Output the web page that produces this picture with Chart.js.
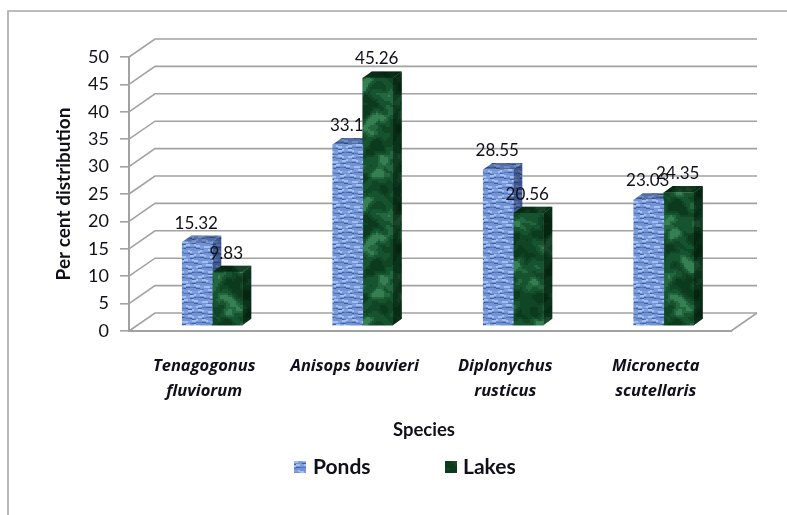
<!DOCTYPE html>
<html>
<head>
<meta charset="utf-8">
<title>Per cent distribution by species</title>
<script src="https://cdn.jsdelivr.net/npm/chart.js@4"></script>
<style>
  html, body { margin: 0; padding: 0; background: #fff; }
  canvas { display: block; filter: blur(0.4px); }
</style>
</head>
<body>
<canvas id="chart" width="787" height="515"></canvas>
<script>
const species = [['Tenagogonus', 'fluviorum'], 'Anisops bouvieri', ['Diplonychus', 'rusticus'], ['Micronecta', 'scutellaris']];
const ponds = [15.32, 33.1, 28.55, 23.03];
const lakes = [9.83, 45.26, 20.56, 24.35];
const seriesNames = ['Ponds', 'Lakes'];
const yMax = 50;
const yStep = 5;

// the 3d look: back wall offset, bar plane offset, bar depth
const wall = { dx: 26, dy: -18 };
const barPlane = { dx: 8, dy: -5 };
const depth = { dx: 9, dy: -6.5 };
const gridColor = '#a2a2a2';
const textColor = '#10101a';

function makeTile(w, h) {
    const c = document.createElement('canvas');
    c.width = w;
    c.height = h;
    return c;
}

// woven blue texture, mostly horizontal dashes
function bluePattern() {
    const c = makeTile(60, 40);
    const g = c.getContext('2d');
    g.fillStyle = '#7393d4';
    g.fillRect(0, 0, 60, 40);
    for (let y = 0; y < 40; y += 5) {
        for (let x = 0; x < 60; x += 2) {
            const wave = Math.sin(x * Math.PI / 15 + y * 1.7);
            const gap = Math.sin(x * Math.PI / 5 + y * 0.9);
            g.fillStyle = gap > -0.2 ? '#a2bff1' : '#7f9fdf';
            g.fillRect(x, y + Math.round(wave), 2, 2);
            g.fillStyle = gap > 0 ? '#41609f' : '#5878ba';
            g.fillRect(x, y + 3 + Math.round(wave), 2, 1);
        }
    }
    return g.createPattern(c, 'repeat');
}

// mottled green marble
function greenPattern() {
    const w = 90, h = 120;
    const c = makeTile(w, h);
    const g = c.getContext('2d');
    for (let y = 0; y < h; y += 2) {
        for (let x = 0; x < w; x += 2) {
            const n = Math.sin(x * Math.PI / 45 + Math.sin(y * Math.PI / 20) * 2)
                + Math.sin(y * Math.PI / 30 + Math.sin(x * Math.PI / 45) * 3)
                + 0.5 * Math.sin(y * Math.PI / 10 + Math.sin(x * Math.PI / 15) * 2)
                + 0.3 * Math.sin((x * 2 - y) * Math.PI / 15 + Math.sin(y * Math.PI / 12) * 2);
            g.fillStyle = n > 1.5 ? '#357f52' : n > 0.8 ? '#24663d' : n > -0.3 ? '#165430' : n > -1.2 ? '#104626' : '#0b3a1d';
            g.fillRect(x, y, 2, 2);
        }
    }
    return g.createPattern(c, 'repeat');
}

const fills = [bluePattern(), greenPattern()];
const sideShade = ['rgba(10,25,70,0.5)', 'rgba(0,15,5,0.5)'];
const topShade = ['rgba(10,25,70,0.3)', 'rgba(0,15,5,0.55)'];

function face(ctx, pts, fill, shade) {
    ctx.beginPath();
    pts.forEach((p, i) => i ? ctx.lineTo(p[0], p[1]) : ctx.moveTo(p[0], p[1]));
    ctx.closePath();
    ctx.fillStyle = fill;
    ctx.fill();
    ctx.fillStyle = shade;
    ctx.fill();
}

const threeD = {
    id: 'threeD',
    beforeDatasetsDraw(chart) {
        const { ctx, chartArea: a, scales: { y } } = chart;
        ctx.save();
        ctx.strokeStyle = gridColor;
        ctx.lineWidth = 1.6;
        y.ticks.forEach(t => {
            const py = y.getPixelForValue(t.value);
            ctx.beginPath();
            ctx.moveTo(a.left, py);
            ctx.lineTo(a.left + wall.dx, py + wall.dy);
            ctx.lineTo(a.right + wall.dx, py + wall.dy);
            ctx.stroke();
        });
        // floor edge on the right
        ctx.beginPath();
        ctx.moveTo(a.right, a.bottom);
        ctx.lineTo(a.right + wall.dx, a.bottom + wall.dy);
        ctx.stroke();
        ctx.restore();

        // side and top faces go first: chart.js paints dataset 0 last,
        // and the lakes front has to cover the ponds side
        ctx.save();
        ctx.translate(barPlane.dx, barPlane.dy);
        chart.data.datasets.forEach((ds, i) => {
            chart.getDatasetMeta(i).data.forEach(el => {
                const l = el.x - el.width / 2;
                const r = el.x + el.width / 2;
                face(ctx, [[r, el.y], [r + depth.dx, el.y + depth.dy], [r + depth.dx, el.base + depth.dy], [r, el.base]],
                    fills[i], sideShade[i]);
                face(ctx, [[l, el.y], [l + depth.dx, el.y + depth.dy], [r + depth.dx, el.y + depth.dy], [r, el.y]],
                    fills[i], topShade[i]);
            });
        });
        ctx.restore();
    },
    beforeDatasetDraw(chart) {
        chart.ctx.save();
        chart.ctx.translate(barPlane.dx, barPlane.dy);
    },
    afterDatasetDraw(chart) {
        chart.ctx.restore();
    },
    afterDatasetsDraw(chart) {
        const ctx = chart.ctx;
        ctx.save();
        // data labels
        ctx.font = '17px Lato';
        ctx.fillStyle = textColor;
        ctx.textAlign = 'center';
        ctx.textBaseline = 'middle';
        chart.data.datasets.forEach((ds, i) => {
            chart.getDatasetMeta(i).data.forEach((el, j) => {
                ctx.fillText(String(ds.data[j]), el.x + barPlane.dx - 1, el.y + barPlane.dy - 19);
            });
        });
        // x axis title
        ctx.font = 'bold 18.5px Lato';
        ctx.fillText('Species', 424, 430);
        // legend
        const items = [{ box: 294, text: 313 }, { box: 445, text: 463 }];
        ctx.font = 'bold 21px Lato';
        ctx.textAlign = 'left';
        items.forEach((it, i) => {
            ctx.fillStyle = fills[i];
            ctx.fillRect(it.box, 461, 12, 12);
            ctx.fillStyle = textColor;
            ctx.fillText(seriesNames[i], it.text, 467);
        });
        // outer frame, open on the right and at the bottom
        ctx.strokeStyle = '#a8a8a8';
        ctx.lineWidth = 1.6;
        ctx.beginPath();
        ctx.moveTo(8, 515);
        ctx.lineTo(8, 11);
        ctx.lineTo(787, 11);
        ctx.stroke();
        ctx.restore();
    }
};

new Chart(document.getElementById('chart'), {
    type: 'bar',
    data: {
        labels: species,
        datasets: [
            { label: seriesNames[0], data: ponds, backgroundColor: fills[0], clip: false },
            { label: seriesNames[1], data: lakes, backgroundColor: fills[1], clip: false }
        ]
    },
    options: {
        responsive: false,
        animation: false,
        events: [],
        barThickness: 30,
        layout: { padding: { left: 52, right: 56, top: 57, bottom: 60 } },
        plugins: { legend: { display: false }, tooltip: { enabled: false } },
        scales: {
            x: {
                afterFit: s => { s.height = 124; },
                grid: { display: false },
                border: { color: gridColor, width: 2 },
                ticks: {
                    autoSkip: false,
                    maxRotation: 0,
                    padding: 15,
                    color: textColor,
                    font: { family: 'Open Sans', size: 16.5, style: 'italic', weight: 'bold', lineHeight: 1.52 }
                }
            },
            y: {
                min: 0,
                max: yMax,
                afterFit: s => { s.width = 77; },
                grid: { drawOnChartArea: false, color: gridColor, tickLength: 9, lineWidth: 1.6 },
                border: { color: gridColor, width: 2 },
                ticks: {
                    stepSize: yStep,
                    padding: 11,
                    color: textColor,
                    font: { family: 'Lato', size: 18 }
                },
                title: {
                    display: true,
                    text: 'Per cent distribution',
                    color: textColor,
                    padding: 0,
                    font: { family: 'Lato', size: 19, weight: 'bold' }
                }
            }
        }
    },
    plugins: [threeD]
});
</script>
</body>
</html>
